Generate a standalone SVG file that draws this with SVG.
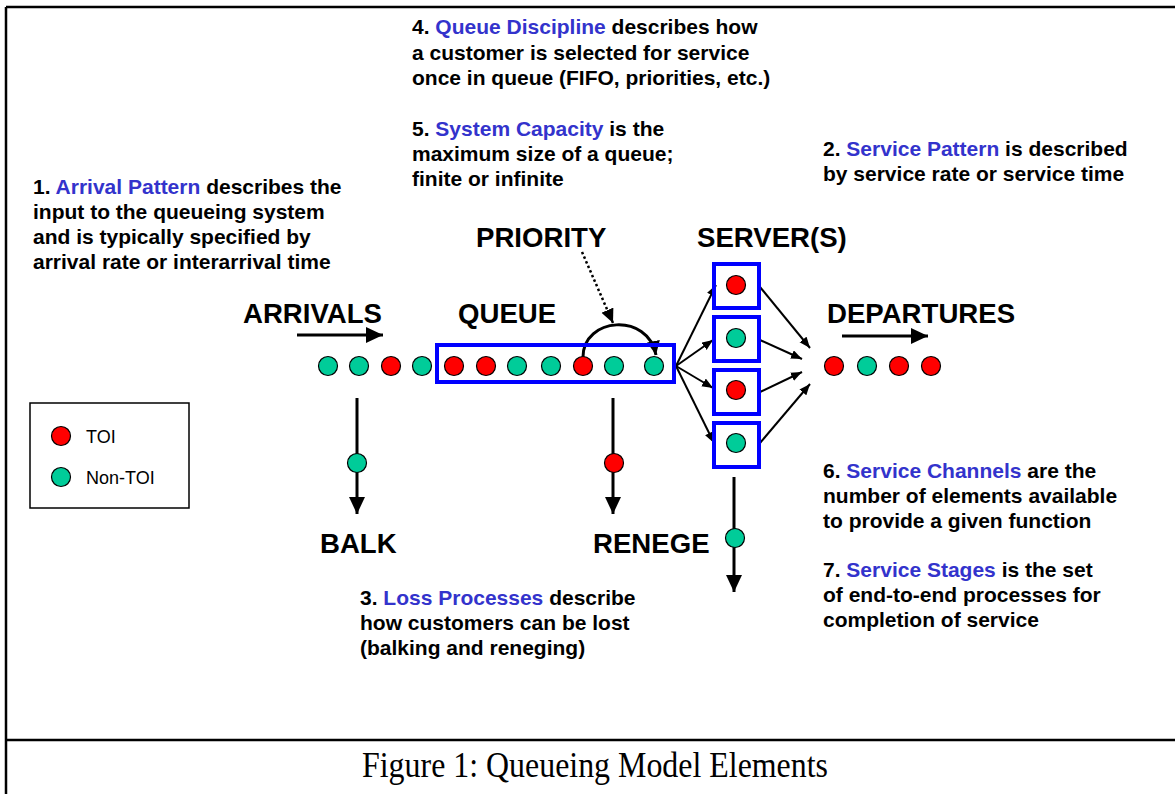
<svg xmlns="http://www.w3.org/2000/svg" width="1175" height="794" viewBox="0 0 1175 794">
<style>
.t{font-family:"Liberation Sans",Arial,sans-serif;font-weight:bold;font-size:21px;fill:#000}
.b{fill:#3333CC}
.big{font-family:"Liberation Sans",Arial,sans-serif;font-weight:bold;font-size:27.6px;fill:#000}
.leg{font-family:"Liberation Sans",Arial,sans-serif;font-size:18px;fill:#000}
.red{fill:#FF0000;stroke:#000;stroke-width:1.2}
.grn{fill:#00CC99;stroke:#000;stroke-width:1.2}
.box{fill:none;stroke:#0000FF;stroke-width:4}
.ln{fill:none;stroke:#000;stroke-width:3}
.thin{fill:none;stroke:#000;stroke-width:2}
</style>
<defs>
<marker id="ah" markerUnits="userSpaceOnUse" markerWidth="18" markerHeight="18" refX="17" refY="8" orient="auto"><path d="M0,0 L17,8 L0,16 Z" fill="#000"/></marker>
<marker id="as" markerUnits="userSpaceOnUse" markerWidth="12" markerHeight="10" refX="11" refY="4.5" orient="auto"><path d="M0,0 L11,4.5 L0,9 Z" fill="#000"/></marker>
<marker id="am" markerUnits="userSpaceOnUse" markerWidth="15" markerHeight="14" refX="14" refY="6.5" orient="auto"><path d="M0,0 L14,6.5 L0,13 Z" fill="#000"/></marker>
</defs>
<rect width="1175" height="794" fill="#fff"/>
<g id="frame" stroke="#000" stroke-width="2.5" fill="none">
<path d="M6,7 H1175 M6,7 V794 M6,740 H1175"/>
</g>
<text x="362" y="777" textLength="466" lengthAdjust="spacingAndGlyphs" font-family="'Liberation Serif','Times New Roman',serif" font-size="35" fill="#000">Figure 1: Queueing Model Elements</text>

<g id="connectors">
<line class="ln" x1="297" y1="335" x2="383" y2="335" marker-end="url(#ah)"/>
<line class="ln" x1="842" y1="336" x2="928" y2="336" marker-end="url(#ah)"/>
<line class="ln" x1="357" y1="398" x2="357" y2="514" marker-end="url(#ah)"/>
<line class="ln" x1="613" y1="398" x2="613" y2="514" marker-end="url(#ah)"/>
<line class="ln" x1="734" y1="477" x2="734" y2="592" marker-end="url(#ah)"/>
<path class="ln" d="M583,357 C583,317 648,312 656,355" marker-end="url(#am)"/>
<line x1="582" y1="252" x2="613" y2="323" stroke="#000" stroke-width="2.5" stroke-dasharray="2.5,2.5" marker-end="url(#am)"/>
<line class="thin" x1="676" y1="366" x2="716" y2="285" marker-end="url(#as)"/>
<line class="thin" x1="676" y1="366" x2="713" y2="340" marker-end="url(#as)"/>
<line class="thin" x1="676" y1="366" x2="713" y2="388" marker-end="url(#as)"/>
<line class="thin" x1="676" y1="366" x2="714" y2="443" marker-end="url(#as)"/>
<line class="thin" x1="760" y1="287" x2="810" y2="348" marker-end="url(#as)"/>
<line class="thin" x1="760" y1="340" x2="802" y2="359" marker-end="url(#as)"/>
<line class="thin" x1="760" y1="392" x2="802" y2="372" marker-end="url(#as)"/>
<line class="thin" x1="760" y1="443" x2="810" y2="384" marker-end="url(#as)"/>
</g>

<g id="arrivals">
<text class="big" x="243" y="323">ARRIVALS</text>
<circle class="grn" cx="328" cy="366" r="9.5"/>
<circle class="grn" cx="359" cy="366" r="9.5"/>
<circle class="red" cx="391" cy="366" r="9.5"/>
<circle class="grn" cx="422" cy="366" r="9.5"/>
</g>

<g id="queue">
<text class="big" x="458" y="323">QUEUE</text>
<rect class="box" x="437" y="345" width="237" height="37" stroke-width="3.5"/>
<circle class="red" cx="454" cy="366" r="9.5"/>
<circle class="red" cx="486" cy="366" r="9.5"/>
<circle class="grn" cx="517" cy="366" r="9.5"/>
<circle class="grn" cx="551" cy="366" r="9.5"/>
<circle class="red" cx="583" cy="366" r="9.5"/>
<circle class="grn" cx="614" cy="366" r="9.5"/>
<circle class="grn" cx="654" cy="366" r="9.5"/>
</g>

<g id="priority">
<text class="big" x="476" y="247">PRIORITY</text>
</g>

<g id="servers">
<text class="big" x="697" y="247">SERVER(S)</text>
<rect class="box" x="714" y="264" width="45" height="44"/>
<rect class="box" x="714" y="317" width="45" height="44"/>
<rect class="box" x="714" y="370" width="45" height="44"/>
<rect class="box" x="714" y="423" width="45" height="44"/>
<circle class="red" cx="736" cy="285" r="9.5"/>
<circle class="grn" cx="736" cy="338" r="9.5"/>
<circle class="red" cx="736" cy="390" r="9.5"/>
<circle class="grn" cx="736" cy="443" r="9.5"/>
<circle class="grn" cx="735" cy="538" r="9.5"/>
</g>

<g id="departures">
<text class="big" x="827" y="323">DEPARTURES</text>
<circle class="red" cx="834" cy="366" r="9.5"/>
<circle class="grn" cx="867" cy="366" r="9.5"/>
<circle class="red" cx="899" cy="366" r="9.5"/>
<circle class="red" cx="931" cy="366" r="9.5"/>
</g>

<g id="balk">
<circle class="grn" cx="357" cy="463" r="9.5"/>
<text class="big" x="320" y="553">BALK</text>
</g>

<g id="renege">
<circle class="red" cx="614" cy="463" r="9.5"/>
<text class="big" x="593" y="553">RENEGE</text>
</g>

<g id="legend">
<rect x="30" y="403" width="159" height="105" fill="none" stroke="#000" stroke-width="1.5"/>
<circle class="red" cx="61" cy="436" r="9.5"/>
<text class="leg" x="86" y="443">TOI</text>
<circle class="grn" cx="61" cy="477" r="9.5"/>
<text class="leg" x="86" y="484">Non-TOI</text>
</g>

<g id="note1">
<text class="t" x="33" y="194">1. <tspan class="b">Arrival Pattern</tspan> describes the</text>
<text class="t" x="33" y="219">input to the queueing system</text>
<text class="t" x="33" y="244">and is typically specified by</text>
<text class="t" x="33" y="269">arrival rate or interarrival time</text>
</g>
<g id="note2">
<text class="t" x="823" y="156">2. <tspan class="b">Service Pattern</tspan> is described</text>
<text class="t" x="823" y="181">by service rate or service time</text>
</g>
<g id="note3">
<text class="t" x="360" y="605">3. <tspan class="b">Loss Processes</tspan> describe</text>
<text class="t" x="360" y="630">how customers can be lost</text>
<text class="t" x="360" y="655">(balking and reneging)</text>
</g>
<g id="note4">
<text class="t" x="412" y="34">4. <tspan class="b">Queue Discipline</tspan> describes how</text>
<text class="t" x="412" y="59.5">a customer is selected for service</text>
<text class="t" x="412" y="85">once in queue (FIFO, priorities, etc.)</text>
</g>
<g id="note5">
<text class="t" x="412" y="136">5. <tspan class="b">System Capacity</tspan> is the</text>
<text class="t" x="412" y="161">maximum size of a queue;</text>
<text class="t" x="412" y="186">finite or infinite</text>
</g>
<g id="note6">
<text class="t" x="823" y="478">6. <tspan class="b">Service Channels</tspan> are the</text>
<text class="t" x="823" y="503">number of elements available</text>
<text class="t" x="823" y="528">to provide a given function</text>
</g>
<g id="note7">
<text class="t" x="823" y="577">7. <tspan class="b">Service Stages</tspan> is the set</text>
<text class="t" x="823" y="602">of end-to-end processes for</text>
<text class="t" x="823" y="627">completion of service</text>
</g>
</svg>
